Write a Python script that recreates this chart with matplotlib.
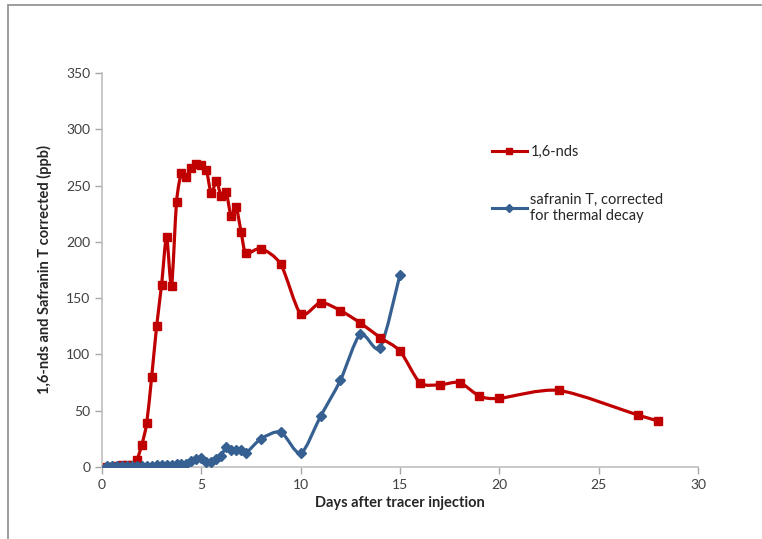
import numpy as np
import matplotlib
matplotlib.use("Agg")
import matplotlib.pyplot as plt
from matplotlib.path import Path
from matplotlib.patches import PathPatch, Rectangle
from matplotlib.lines import Line2D

plt.rcParams['font.family'] = ['Lato', 'DejaVu Sans']

# ---- data ----
nds_days = [0.25, 0.5, 0.75, 1.0, 1.25, 1.5, 1.75, 2.0, 2.25, 2.5, 2.75, 3.0, 3.25, 3.5,
            3.75, 4.0, 4.25, 4.5, 4.75, 5.0, 5.25, 5.5, 5.75, 6.0, 6.25, 6.5, 6.75, 7.0,
            7.25, 8, 9, 10, 11, 12, 13, 14, 15, 16, 17, 18, 19, 20, 23, 27, 28]
nds_ppb = [0, 0, 0.5, 2, 2, 2, 6, 19.5, 39, 80, 125, 162, 204, 161,
           235, 261, 258, 266, 269, 268, 264, 243, 254, 241, 244, 223, 231, 209,
           190, 194, 180, 136, 146, 139, 128, 115, 103, 75, 73, 75, 63, 61, 68, 46, 41]

saf_days = [0.25, 0.5, 0.75, 1.0, 1.25, 1.5, 1.75, 2.0, 2.25, 2.5, 2.75, 3.0, 3.25, 3.5,
            3.75, 4.0, 4.25, 4.5, 4.75, 5.0, 5.25, 5.5, 5.75, 6.0, 6.25, 6.5, 6.75, 7.0,
            7.25, 8, 9, 10, 11, 12, 13, 14, 15]
saf_ppb = [0.5, 0.5, 0.5, 0.5, 0.5, 0.5, 0.5, 0.8, 1, 1, 1.5, 1.5, 2, 2,
           2.5, 3, 2.5, 5, 7, 8, 4.5, 4, 7, 10, 18, 15.5, 15.5, 15.5,
           12.5, 25, 31, 12, 45, 77, 118, 106, 171]

x_ticks = [0, 5, 10, 15, 20, 25, 30]
y_ticks = [0, 50, 100, 150, 200, 250, 300, 350]

RED = '#C00000'
BLUE = '#376092'


def smooth_path(x, y, k=7.5):
    x = np.asarray(x, float)
    y = np.asarray(y, float)
    pts = np.column_stack([x, y])
    n = len(pts)
    verts = [pts[0]]
    codes = [Path.MOVETO]
    for i in range(n - 1):
        p0 = pts[i - 1] if i > 0 else pts[i]
        p1 = pts[i]
        p2 = pts[i + 1]
        p3 = pts[i + 2] if i + 2 < n else pts[i + 1]
        c1 = p1 + (p2 - p0) / k
        c2 = p2 - (p3 - p1) / k
        verts += [c1, c2, p2]
        codes += [Path.CURVE4] * 3
    return Path(verts, codes)


fig = plt.figure(figsize=(7.62, 5.39), dpi=100)
fig.patches.append(Rectangle((8 / 762, -0.1), 1.2, (1 - 5 / 539) + 0.1,
                             transform=fig.transFigure, fill=False,
                             edgecolor='#8C8C8C', linewidth=1.2, zorder=0))

ax = fig.add_axes([102 / 762, 1 - 467 / 539, 596 / 762, 394 / 539])

for xs, ys, col, mk, ms in [(nds_days, nds_ppb, RED, 's', 5.2),
                            (saf_days, saf_ppb, BLUE, 'D', 5.5)]:
    ax.add_patch(PathPatch(smooth_path(xs, ys), facecolor='none', edgecolor=col,
                           linewidth=2.3, zorder=3, capstyle='round', joinstyle='round'))
    ax.plot(xs, ys, linestyle='none', marker=mk, color=col, markersize=ms, zorder=4)

ax.set_xlim(0, 30)
ax.set_ylim(0, 350)
ax.set_xticks(x_ticks)
ax.set_yticks(y_ticks)
ax.tick_params(axis='both', colors='#A6A6A6', labelcolor='#404040', labelsize=10,
               length=5, width=1, direction='out')
for s in ['top', 'right']:
    ax.spines[s].set_visible(False)
for s in ['left', 'bottom']:
    ax.spines[s].set_color('#BFBFBF')
    ax.spines[s].set_linewidth(1.2)

ax.set_xlabel('Days after tracer injection', fontsize=10.5, fontweight='bold',
              color='#262626', labelpad=4)
ax.set_ylabel('1,6-nds and Safranin T corrected (ppb)', fontsize=10.5,
              fontweight='bold', color='#262626', labelpad=10)

handles = [Line2D([], [], color=RED, marker='s', markersize=5, linewidth=2.2),
           Line2D([], [], color=BLUE, marker='D', markersize=4, linewidth=2.2)]
labels = ['1,6-nds', 'safranin T, corrected\nfor thermal decay']
leg = ax.legend(handles, labels, loc='upper left', bbox_to_anchor=(0.632, 0.85),
                frameon=False, fontsize=10.5, handlelength=2.4, labelspacing=2.3,
                handletextpad=0.25, labelcolor='#262626')

fig.savefig('out.png', dpi=100)
